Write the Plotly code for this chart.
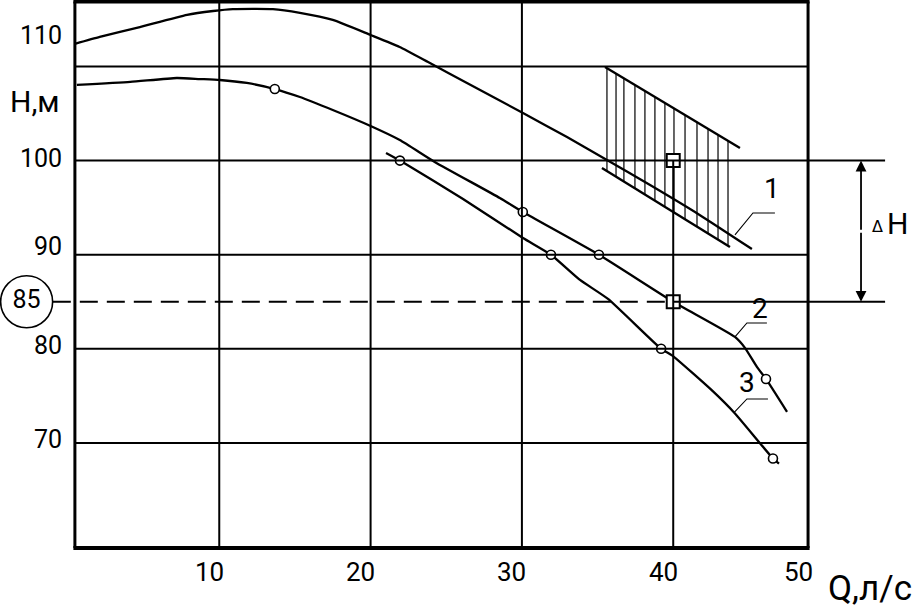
import numpy as np
import plotly.graph_objects as go

# ---------------- data (Q, l/s ; H, m) ----------------
# drawing frame limits
Q_LO, Q_HI = 0.46, 48.91
H_LO, H_HI = 58.84, 116.9
VIEW_Q = (-4.49, 56.44)
VIEW_H = (52.35, 117.07)

grid_q = [10, 20, 30]
grid_h = [110, 90, 80, 70]
q_req, h_req = 40, 100      # required point
h_static = 85               # static head (circled)
q_ext = 54.0                # end of dimension extension lines
q_dim = 52.41               # position of the ΔH dimension line

x_tick_vals = [10, 20, 30, 40, Q_HI]
x_tick_text = ["10", "20", "30", "40", "50"]
y_tick_vals = [110, 100, 90, 80, 70]
y_tick_text = ["110", "100", "90", "80", "70"]

# curve 1 (upper pump curve)
q1 = [0.46, 2.1, 4.75, 7.87, 9.59, 10.9, 13.55, 15.33, 17.5, 20.0, 21.92, 23.8,
      26.37, 30.07, 32.98, 35.62, 38.47, 41.77, 45.2]
h1 = [112.4, 113.14, 114.2, 115.5, 115.9, 116.1, 116.1, 115.7, 114.95, 113.35, 112.08,
      110.48, 108.25, 105.06, 102.5, 100.06, 97.4, 94.2, 90.6]

# curve 2
q2 = [0.59, 4.12, 7.19, 8.71, 10.03, 11.82, 13.67, 15.33, 17.5, 20.0, 21.93, 24.24,
      28.54, 30.06, 35.09, 40.0, 44.08, 44.74, 45.53, 46.13, 47.52]
h2 = [108.04, 108.36, 108.78, 108.67, 108.57, 108.25, 107.61, 106.76, 105.38, 103.68,
      102.19, 99.86, 96.03, 94.54, 90.0, 85.0, 81.26, 80.1, 78.08, 76.8, 73.3]
q2_pts = [13.67, 30.06, 35.09, 46.13]
h2_pts = [107.61, 94.54, 90.0, 76.8]

# curve 3
q3 = [21.02, 21.94, 26.11, 30.07, 31.92, 33.84, 35.69, 39.2, 39.92, 42.63, 44.08, 46.59, 46.99]
h3 = [100.81, 100.0, 95.92, 91.78, 90.0, 87.32, 85.3, 80.0, 79.3, 75.47, 73.13, 68.35, 67.8]
q3_pts = [21.94, 31.92, 39.2, 46.59]
h3_pts = [100.0, 90.0, 80.0, 68.35]

# hatched working zone
band_q_upper = [35.49, 44.41]
band_h_upper = [109.95, 101.34]
band_q_lower = [35.29, 43.75]
band_h_lower = [99.22, 90.82]
hatch_q = [35.62, 36.22, 36.74, 37.47, 38.13, 38.79, 39.45, 40.05, 40.78, 41.57,
           42.3, 42.96, 43.62]

# leader lines for curve numbers
leader1_q, leader1_h = [44.08, 45.27, 46.72], [92.1, 94.44, 94.44]
leader2_q, leader2_h = [44.08, 44.87, 46.19], [81.26, 82.75, 82.75]
leader3_q, leader3_h = [44.0, 44.87, 46.26], [73.18, 74.67, 74.67]
num_labels = ["1", "2", "3"]
num_q = [46.52, 45.72, 44.87]
num_h = [97.08, 84.3, 76.37]

# ---------------- figure ----------------
FONT = "Roboto, Liberation Sans, sans-serif"
K = "black"
fig = go.Figure()

def seg(x0, y0, x1, y1, w=2, dash=None):
    fig.add_shape(type="line", x0=x0, y0=y0, x1=x1, y1=y1, xref="x", yref="y",
                  line=dict(color=K, width=w, dash=dash) if dash else dict(color=K, width=w))

# gridlines
for q in grid_q:
    seg(q, H_LO, q, H_HI, 2)
seg(q_req, H_LO, q_req, h_req, 2)
for h in grid_h:
    seg(Q_LO, h, Q_HI, h, 2)
seg(Q_LO, h_req, q_ext, h_req, 2)
seg(-1.0, h_static, q_req, h_static, 2, "18px,9px")
seg(q_req, h_static, q_ext, h_static, 2)

# frame
seg(Q_LO, H_LO, Q_LO, H_HI, 3)
seg(Q_HI, H_LO, Q_HI, H_HI, 3)
seg(Q_LO - 0.1, H_LO, Q_HI + 0.1, H_LO, 4)
seg(Q_LO - 0.1, H_HI, Q_HI + 0.1, H_HI, 4)

# hatched zone
def edge(qq, qs, hs):
    return np.interp(qq, qs, hs)

hx, hy = [], []
for q in hatch_q:
    hx += [q, q, None]
    hy += [edge(q, band_q_upper, band_h_upper), edge(q, band_q_lower, band_h_lower), None]
fig.add_trace(go.Scatter(x=hx, y=hy, mode="lines", line=dict(color=K, width=1.2)))
fig.add_trace(go.Scatter(x=band_q_upper, y=band_h_upper, mode="lines", line=dict(color=K, width=2.4)))
fig.add_trace(go.Scatter(x=band_q_lower, y=band_h_lower, mode="lines", line=dict(color=K, width=2.4)))

# curves
for qq, hh in [(q1, h1), (q2, h2), (q3, h3)]:
    fig.add_trace(go.Scatter(x=qq, y=hh, mode="lines",
                             line=dict(color=K, width=2.3, shape="spline", smoothing=0.5)))

# leader lines
for lq, lh in [(leader1_q, leader1_h), (leader2_q, leader2_h), (leader3_q, leader3_h)]:
    fig.add_trace(go.Scatter(x=lq, y=lh, mode="lines", line=dict(color=K, width=1.1)))

# point markers
fig.add_trace(go.Scatter(x=q2_pts + q3_pts, y=h2_pts + h3_pts, mode="markers",
                         marker=dict(symbol="circle", size=9, color="white",
                                     line=dict(color=K, width=1.6))))
fig.add_trace(go.Scatter(x=[q_req, q_req], y=[h_req, h_static], mode="markers",
                         marker=dict(symbol="square", size=13, color="white",
                                     line=dict(color=K, width=2))))

# circled static head
fig.add_trace(go.Scatter(x=[-2.73], y=[h_static], mode="markers+text", text=["85"],
                         textposition="middle center", cliponaxis=False,
                         textfont=dict(family=FONT, size=25, color=K),
                         marker=dict(symbol="circle-open", size=52, color=K,
                                     line=dict(color=K, width=1.6))))

# ΔH dimension
for a, b in [(h_req, (h_req + h_static) / 2), (h_static, (h_req + h_static) / 2)]:
    fig.add_annotation(x=q_dim, y=a, ax=q_dim, ay=b, xref="x", yref="y",
                       axref="x", ayref="y", text="", showarrow=True,
                       arrowhead=2, arrowsize=1.2, arrowwidth=1.8, arrowcolor=K)
fig.add_annotation(x=53.53, y=93.0, text="Δ", showarrow=False,
                   font=dict(family="DejaVu Sans", size=16, color=K))
fig.add_annotation(x=54.79, y=93.37, text="H", showarrow=False,
                   font=dict(family=FONT, size=30, color=K))

# curve numbers
for t, q, h in zip(num_labels, num_q, num_h):
    fig.add_annotation(x=q, y=h, text=t, showarrow=False,
                       font=dict(family=FONT, size=28, color=K))

# tick labels
for v, t in zip(x_tick_vals, x_tick_text):
    fig.add_annotation(x=v, y=H_LO, text=t, showarrow=False, xshift=-10, yshift=-24,
                       xanchor="center", yanchor="middle",
                       font=dict(family=FONT, size=26, color=K))
y_lift = {"110": 31, "100": 2, "90": 8, "80": 3, "70": 3}
for v, t in zip(y_tick_vals, y_tick_text):
    fig.add_annotation(x=Q_LO, y=v, text=t, showarrow=False, xanchor="right",
                       xshift=-11, yshift=y_lift[t], yanchor="middle",
                       font=dict(family=FONT, size=25, color=K))

# axis titles
fig.add_annotation(x=35 / 922, y=1 - 101 / 609, xref="paper", yref="paper", text="H,м",
                   xanchor="center", yanchor="middle",
                   showarrow=False, font=dict(family=FONT, size=30, color=K))
fig.add_annotation(x=870 / 922, y=1 - 588 / 609, xref="paper", yref="paper", text="Q,л/с",
                   xanchor="center", yanchor="middle",
                   showarrow=False, font=dict(family=FONT, size=35, color=K))

fig.update_layout(width=922, height=609, margin=dict(l=0, r=0, t=0, b=0),
                  paper_bgcolor="white", plot_bgcolor="white", showlegend=False,
                  xaxis=dict(range=list(VIEW_Q), visible=False, fixedrange=True),
                  yaxis=dict(range=list(VIEW_H), visible=False, fixedrange=True))
fig.write_html("out.html", config={"displayModeBar": False},
               post_script="document.body.style.margin='0px';document.body.style.overflow='hidden';")
